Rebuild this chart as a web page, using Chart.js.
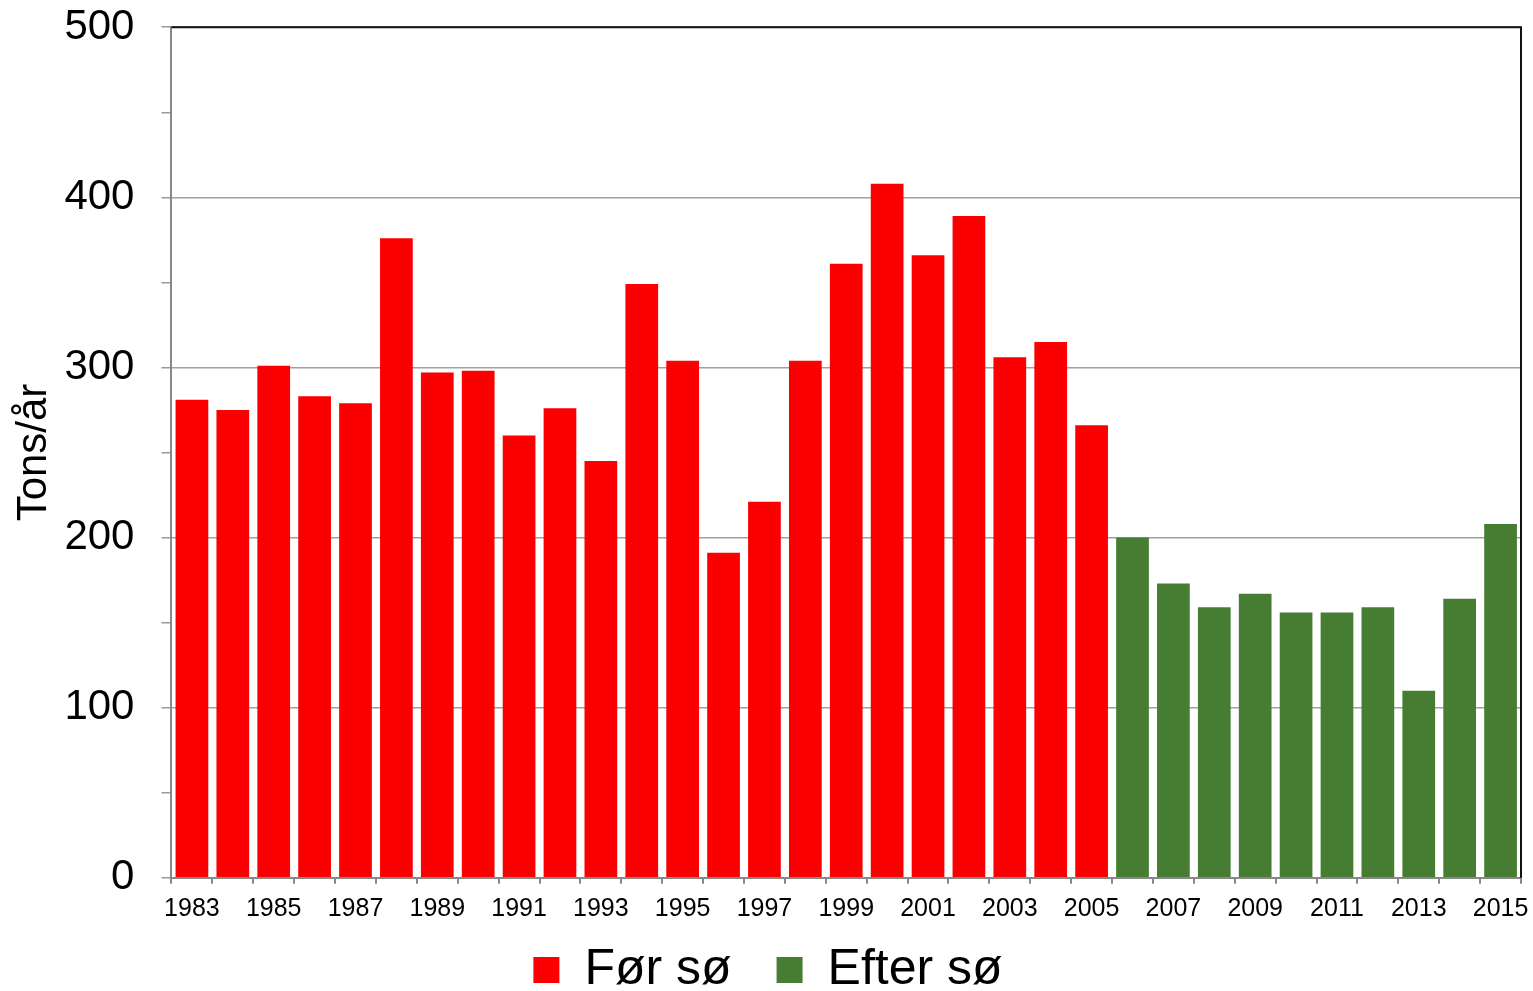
<!DOCTYPE html>
<html lang="en">
<head>
    <meta charset="UTF-8">
    <title>Tons/år</title>
    <style>
        body {
            margin: 0;
            background: #fff;
            font-family: "Liberation Sans", Arial, sans-serif;
        }
        .chart-box {
            position: relative;
            width: 1533px;
            height: 991px;
        }
    </style>
</head>
<body>
    <div class="chart-box">
        <canvas id="chart"></canvas>
    </div>

    <script src="https://cdn.jsdelivr.net/npm/chart.js"></script>
    <script>
        const years = [];
        for (let y = 1983; y <= 2015; y++) years.push(String(y));

        // 1983-2005
        const beforeValues = [281, 275, 301, 283, 279, 376, 297, 298, 260, 276, 245, 349,
            304, 191, 221, 304, 361, 408, 366, 389, 306, 315, 266];
        // 2006-2015
        const afterValues = [200, 173, 159, 167, 156, 156, 159, 110, 164, 208];

        const yTicks = [0, 100, 200, 300, 400, 500];

        const beforeData = beforeValues.concat(afterValues.map(() => null));
        const afterData = beforeValues.map(() => null).concat(afterValues);

        // black frame on top and right of the plot area
        const frame = {
            id: 'frame',
            afterDraw(chart) {
                const { ctx, chartArea } = chart;
                ctx.save();
                ctx.strokeStyle = '#111';
                ctx.lineWidth = 2;
                ctx.beginPath();
                ctx.moveTo(chartArea.left, chartArea.top);
                ctx.lineTo(chartArea.right, chartArea.top);
                ctx.lineTo(chartArea.right, chartArea.bottom);
                ctx.stroke();
                ctx.restore();
            }
        };

        new Chart(document.getElementById('chart'), {
            type: 'bar',
            data: {
                labels: years,
                datasets: [{
                    label: 'Før sø',
                    data: beforeData,
                    backgroundColor: '#FA0000'
                }, {
                    label: 'Efter sø',
                    data: afterData,
                    backgroundColor: '#477D32'
                }]
            },
            options: {
                responsive: true,
                maintainAspectRatio: false,
                animation: false,
                grouped: false,
                categoryPercentage: 1,
                barPercentage: 0.8,
                layout: {
                    padding: { top: 0, right: 6, left: 9, bottom: -14 }
                },
                plugins: {
                    tooltip: { enabled: false },
                    legend: {
                        position: 'bottom',
                        // empty title with negative padding: keeps the wide item gap
                        // without pushing the row down
                        title: {
                            display: true,
                            text: '',
                            font: { size: 1 },
                            padding: { top: -35, bottom: 0 }
                        },
                        labels: {
                            color: '#000',
                            font: { size: 50, family: '"Liberation Sans", Arial' },
                            boxWidth: 26,
                            boxHeight: 26,
                            padding: 45
                        }
                    }
                },
                scales: {
                    x: {
                        offset: true,
                        border: { color: '#888', width: 2 },
                        grid: {
                            offset: true,
                            drawOnChartArea: false,
                            tickLength: 6,
                            color: '#888',
                            lineWidth: 2
                        },
                        ticks: {
                            autoSkip: false,
                            maxRotation: 0,
                            padding: 10,
                            color: '#000',
                            font: { size: 25, family: '"Liberation Sans", Arial' },
                            callback: (v, i) => i % 2 === 0 ? years[i] : ''
                        },
                        afterFit: scale => {
                            scale.paddingRight = 12;
                        }
                    },
                    y: {
                        min: 0,
                        max: 500,
                        border: { color: '#888', width: 2 },
                        grid: {
                            tickLength: 10,
                            color: ctx => yTicks.includes(ctx.tick.value) ? '#A0A0A0' : 'transparent',
                            tickColor: '#999',
                            lineWidth: 1.5
                        },
                        ticks: {
                            stepSize: 50,
                            padding: 27,
                            color: '#000',
                            font: { size: 42, family: '"Liberation Sans", Arial', lineHeight: 0.01 },
                            callback: v => yTicks.includes(v) ? v : ''
                        },
                        title: {
                            display: true,
                            text: 'Tons/år',
                            color: '#000',
                            padding: { top: 0, bottom: -22 },
                            font: { size: 42, family: '"Liberation Sans", Arial' }
                        }
                    }
                }
            },
            plugins: [frame]
        });
    </script>
</body>
</html>
